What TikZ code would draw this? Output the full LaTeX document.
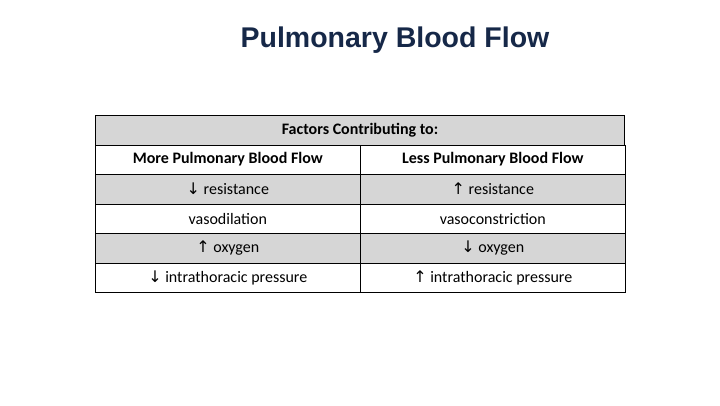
\documentclass[tikz,border=0pt]{standalone}
\usepackage{fontspec}
\setmainfont{Carlito}
\newfontfamily\titlefont{Liberation Sans}
\newfontfamily\arrowfont{DejaVu Sans}
\usetikzlibrary{positioning}
\definecolor{titleblue}{RGB}{22,40,72}
\definecolor{rowgray}{RGB}{214,214,214}
\newcommand{\up}{{\arrowfont ↑}}
\newcommand{\dn}{{\arrowfont ↓}}
\tikzset{
  cell/.style={draw=black,line width=0.6pt,minimum height=29.5pt,inner sep=0pt,font=\fontsize{16}{18}\selectfont},
  half/.style={cell,minimum width=265pt},
  full/.style={cell,minimum width=529.4pt},
  bold/.style={font=\bfseries\fontsize{16}{18}\selectfont},
  shade/.style={fill=rowgray}
}
\begin{document}
\begin{tikzpicture}[x=1pt,y=-1pt]
\useasboundingbox (0,0) rectangle (720,405);
\node[font=\titlefont\bfseries\fontsize{28.5}{32}\selectfont,text=titleblue] (title) at (395,40) {Pulmonary Blood Flow};
\node[full,shade,bold,anchor=north west] (head) at (95,115) {Factors Contributing to:};
\node[half,bold,anchor=north west] (more) at (95,144.5) {More Pulmonary Blood Flow};
\node[half,bold,right=-0.6pt of more] (less) {Less Pulmonary Blood Flow};
\node[half,shade,below=-0.6pt of more] (m1) {\dn\ resistance};
\node[half,shade,below=-0.6pt of less] (l1) {\up\ resistance};
\node[half,below=-0.6pt of m1] (m2) {vasodilation};
\node[half,below=-0.6pt of l1] (l2) {vasoconstriction};
\node[half,shade,below=-0.6pt of m2] (m3) {\up\ oxygen};
\node[half,shade,below=-0.6pt of l2] (l3) {\dn\ oxygen};
\node[half,below=-0.6pt of m3] (m4) {\dn\ intrathoracic pressure};
\node[half,below=-0.6pt of l3] (l4) {\up\ intrathoracic pressure};
\end{tikzpicture}
\end{document}
